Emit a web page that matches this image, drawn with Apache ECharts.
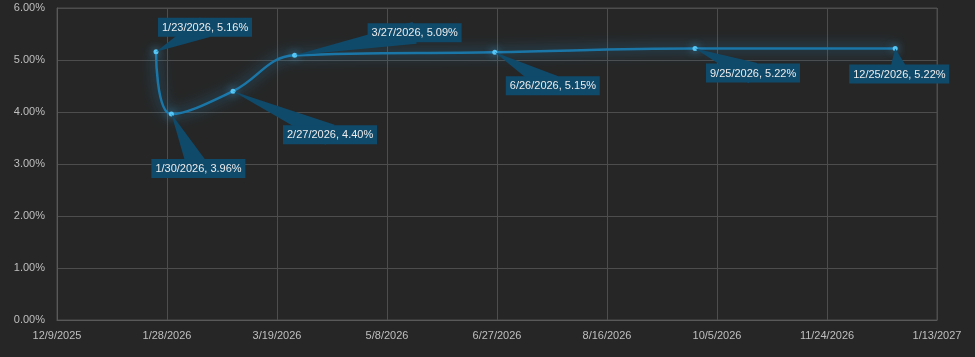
<!DOCTYPE html>
<html><head><meta charset="utf-8">
<script src="https://cdn.jsdelivr.net/npm/echarts@6/dist/echarts.min.js"></script>
<style>html,body{margin:0;padding:0;background:#262626;}#c{width:975px;height:357px;}</style>
</head><body><div id="c"></div>
<script>
// Data
const dates = ['1/23/2026','1/30/2026','2/27/2026','3/27/2026','6/26/2026','9/25/2026','12/25/2026'];
const rates = [5.16, 3.96, 4.40, 5.09, 5.15, 5.22, 5.22];
const xTickMin = '12/9/2025', xTickMax = '1/13/2027', xStepDays = 50;
const yTicks = [0,1,2,3,4,5,6];

// Callout box offsets (style, px relative to point)
const calloutOffsets = [[2,-34],[-20,45],[50,34],[73,-32],[11,24],[11,15],[-46,16]];

const EPOCH = Date.UTC(1899,11,30);
function toSerial(s){const [m,d,y]=s.split('/').map(Number);return Math.round((Date.UTC(y,m-1,d)-EPOCH)/86400000);}
function fromSerial(n){const dt=new Date(EPOCH+n*86400000);return (dt.getUTCMonth()+1)+'/'+dt.getUTCDate()+'/'+dt.getUTCFullYear();}

const pts = dates.map((d,i)=>[toSerial(d), rates[i], i]);
const FONT = '11px "Liberation Sans", Arial, sans-serif';
const mctx = document.createElement('canvas').getContext('2d'); mctx.font = FONT;
function labelText(i){return dates[i]+', '+rates[i].toFixed(2)+'%';}

const chart = echarts.init(document.getElementById('c'));
chart.setOption({
  backgroundColor:'#262626',
  animation:false,
  grid:{left:57,right:38,top:8,bottom:37,show:true,borderColor:'#4d4d4d',borderWidth:1},
  xAxis:{type:'value',min:toSerial(xTickMin),max:toSerial(xTickMax),interval:xStepDays,
    axisLine:{show:true,lineStyle:{color:'#595959'}},axisTick:{show:false},
    splitLine:{show:true,lineStyle:{color:'#4d4d4d'}},
    axisLabel:{color:'#bfbfbf',fontSize:11,fontFamily:'Liberation Sans, Arial',margin:10,
      formatter:v=>fromSerial(v),showMinLabel:true,showMaxLabel:true}},
  yAxis:{type:'value',min:yTicks[0],max:yTicks[yTicks.length-1],interval:1,
    axisLine:{show:true,lineStyle:{color:'#595959'}},axisTick:{show:false},
    splitLine:{show:true,lineStyle:{color:'#4d4d4d'}},
    axisLabel:{color:'#bfbfbf',fontSize:11,fontFamily:'Liberation Sans, Arial',margin:12,
      formatter:v=>v.toFixed(2)+'%'}},
  series:[
    {type:'line',data:pts.map(p=>[p[0],p[1]]),smooth:0.4,z:3,
      lineStyle:{color:'#1b76a8',width:2.5,shadowBlur:14,shadowColor:'rgba(40,160,230,0.8)'},
      symbol:'circle',symbolSize:5,
      itemStyle:{color:'#55c6f5',borderWidth:0,shadowBlur:8,shadowColor:'rgba(80,190,250,0.9)'}},
    {type:'custom',data:pts,z:5,encode:{x:0,y:1},
      renderItem:function(params,api){
        const i=api.value(2);
        const p=api.coord([api.value(0),api.value(1)]);
        const txt=labelText(i);
        const w=Math.round(mctx.measureText(txt).width)+8, h=19;
        const off=calloutOffsets[i];
        const bx=p[0]+off[0], by=p[1]+off[1];
        const cx=bx+w/2, cy=by+h/2;
        let dx=cx-p[0], dy=cy-p[1]; const L=Math.hypot(dx,dy)||1;
        const nx=-dy/L, ny=dx/L, hw=11;
        const color='#0f4a6b';
        return {type:'group',children:[
          {type:'polygon',shape:{points:[[p[0],p[1]],[cx+nx*hw,cy+ny*hw],[cx-nx*hw,cy-ny*hw]]},style:{fill:color}},
          {type:'rect',shape:{x:bx,y:by,width:w,height:h},style:{fill:color}},
          {type:'text',style:{x:bx+4,y:cy+0.5,text:txt,fill:'#ececec',font:FONT,align:'left',verticalAlign:'middle'}}
        ]};
      }}
  ]
});
</script></body></html>
